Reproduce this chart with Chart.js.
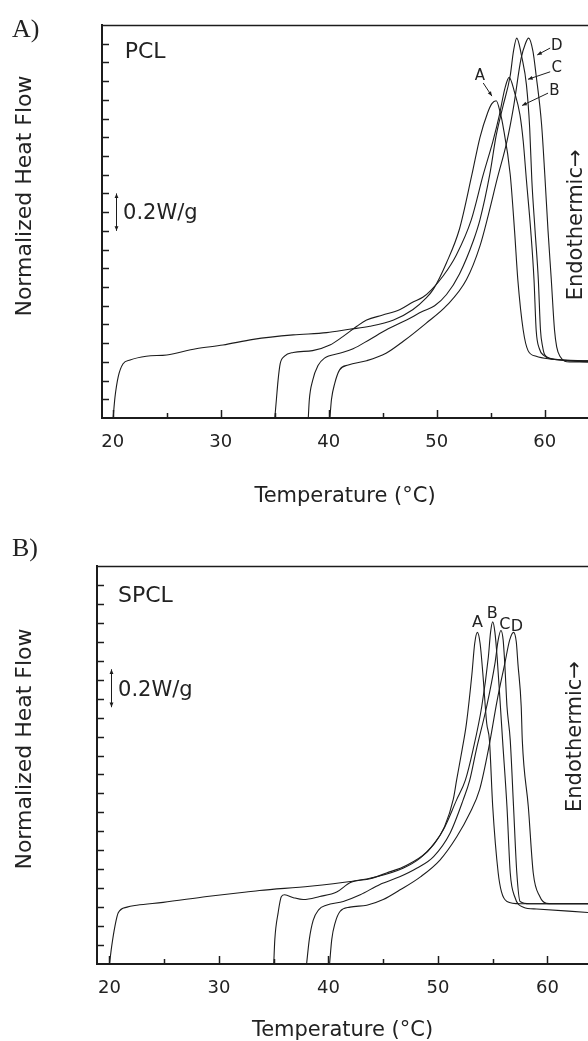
<!DOCTYPE html>
<html>
<head>
<meta charset="utf-8">
<title>DSC melting curves PCL / SPCL</title>
<script src="https://cdn.jsdelivr.net/npm/chart.js@4.4.0/dist/chart.umd.min.js"></script>
<style>
  html, body { margin: 0; padding: 0; background: #fff; }
  .panel { position: absolute; left: 0; width: 588px; }
  #boxA { top: 0; height: 520px; }
  #boxB { top: 520px; height: 521px; }
</style>
</head>
<body>
<div class="panel" id="boxA"><canvas id="chartA"></canvas></div>
<div class="panel" id="boxB"><canvas id="chartB"></canvas></div>
<script>
// temperature ticks (C); labels only on the multiples of 10
const xTickValues = [20, 25, 30, 35, 40, 45, 50, 55, 60];

// ---- panel A : PCL, heat flow (W/g, shifted) vs temperature (C) ----
const pclA_T = [20.03, 20.2, 20.5, 20.95, 21.6, 23.1, 25.0, 27.7, 30.2, 33.0, 36.7, 39.8, 41.9, 43.8, 46.0, 47.8, 49.0, 49.7, 50.9, 52.1, 53.25, 54.0, 54.7, 55.1, 55.5, 55.9, 56.1, 56.8, 57.2, 57.5, 58.0, 58.45, 59.2, 60.5, 64.0];
const pclA_Q = [0, 0.11, 0.22, 0.29, 0.31, 0.33, 0.337, 0.37, 0.39, 0.42, 0.444, 0.456, 0.474, 0.49, 0.524, 0.58, 0.64, 0.69, 0.83, 1.01, 1.30, 1.50, 1.63, 1.68, 1.695, 1.625, 1.57, 1.30, 1.0, 0.74, 0.47, 0.36, 0.33, 0.315, 0.30];

const pclB_T = [35.0, 35.15, 35.3, 35.5, 35.9, 36.7, 38.5, 40.1, 41.3, 42.6, 43.5, 45.0, 46.6, 47.8, 48.7, 49.5, 50.6, 51.8, 53.2, 54.3, 55.2, 55.8, 56.3, 56.7, 57.2, 57.7, 58.0, 58.3, 58.7, 59.0, 59.2, 59.5, 59.9, 60.6, 64.0];
const pclB_Q = [0, 0.10, 0.20, 0.29, 0.33, 0.35, 0.36, 0.39, 0.435, 0.49, 0.524, 0.55, 0.58, 0.62, 0.645, 0.685, 0.76, 0.87, 1.06, 1.30, 1.48, 1.62, 1.76, 1.82, 1.74, 1.62, 1.48, 1.27, 1.0, 0.74, 0.47, 0.37, 0.335, 0.315, 0.305];

const pclC_T = [38.1, 38.2, 38.5, 39.0, 39.6, 41.0, 42.25, 43.8, 45.3, 47.2, 48.7, 49.8, 50.9, 52.1, 53.4, 54.0, 54.9, 55.5, 56.1, 56.8, 57.1, 57.4, 57.9, 58.3, 58.6, 58.8, 59.1, 59.4, 59.6, 59.8, 60.0, 60.8, 64.0];
const pclC_Q = [0, 0.10, 0.20, 0.28, 0.32, 0.346, 0.37, 0.42, 0.47, 0.524, 0.57, 0.60, 0.66, 0.77, 0.95, 1.06, 1.30, 1.51, 1.66, 1.83, 1.96, 2.03, 1.92, 1.78, 1.55, 1.27, 1.0, 0.74, 0.47, 0.38, 0.337, 0.315, 0.305];

const pclD_T = [40.1, 40.25, 40.55, 41.0, 41.8, 43.5, 45.3, 46.9, 49.0, 50.9, 52.75, 54.0, 54.75, 55.6, 56.5, 57.1, 57.8, 58.2, 58.5, 58.9, 59.2, 59.7, 60.0, 60.3, 60.6, 60.9, 61.1, 61.4, 62.3, 64.0];
const pclD_Q = [0, 0.10, 0.185, 0.257, 0.283, 0.306, 0.346, 0.41, 0.506, 0.60, 0.74, 0.92, 1.08, 1.28, 1.48, 1.66, 1.92, 2.00, 2.03, 1.96, 1.83, 1.57, 1.30, 1.0, 0.74, 0.47, 0.38, 0.33, 0.30, 0.30];

// ---- panel B : SPCL ----
const spclA_T = [20.0, 20.2, 20.5, 20.8, 21.6, 22.5, 24.9, 28.9, 32.5, 33.7, 38.3, 42.0, 44.4, 46.8, 48.4, 49.6, 50.6, 51.4, 51.7, 52.2, 52.6, 53.1, 53.35, 53.6, 53.85, 54.1, 54.45, 54.7, 55.0, 55.5, 55.8, 56.3, 57.5, 63.7];
const spclA_Q = [0, 0.093, 0.20, 0.27, 0.30, 0.31, 0.325, 0.356, 0.38, 0.388, 0.41, 0.435, 0.46, 0.505, 0.56, 0.63, 0.725, 0.87, 0.97, 1.13, 1.27, 1.53, 1.69, 1.75, 1.69, 1.53, 1.27, 1.18, 0.83, 0.48, 0.38, 0.33, 0.318, 0.318];

const spclB_T = [35.0, 35.1, 35.4, 35.7, 36.0, 36.8, 37.7, 39.2, 40.75, 42.0, 43.8, 45.3, 47.1, 48.95, 50.5, 51.7, 52.5, 53.2, 54.0, 54.6, 54.8, 55.0, 55.2, 55.4, 55.7, 55.9, 56.3, 56.6, 57.0, 57.8, 59.0, 63.7];
const spclB_Q = [0, 0.13, 0.27, 0.356, 0.365, 0.35, 0.34, 0.356, 0.38, 0.43, 0.45, 0.48, 0.52, 0.59, 0.71, 0.866, 0.97, 1.13, 1.36, 1.62, 1.75, 1.805, 1.75, 1.62, 1.36, 1.18, 0.83, 0.48, 0.356, 0.30, 0.29, 0.272];

const spclC_T = [38.0, 38.25, 38.6, 39.1, 39.8, 41.35, 42.9, 44.7, 46.5, 48.05, 49.6, 51.1, 52.3, 52.9, 53.5, 54.45, 55.2, 55.5, 55.75, 55.95, 56.1, 56.3, 56.6, 56.9, 57.2, 57.5, 58.4, 63.7];
const spclC_Q = [0, 0.13, 0.23, 0.286, 0.31, 0.33, 0.365, 0.42, 0.46, 0.505, 0.567, 0.69, 0.866, 0.97, 1.13, 1.36, 1.585, 1.71, 1.76, 1.71, 1.585, 1.36, 1.18, 0.83, 0.48, 0.33, 0.318, 0.318];

const spclD_T = [40.1, 40.3, 40.6, 41.05, 41.96, 43.5, 45.0, 46.5, 48.4, 50.2, 51.7, 52.9, 53.8, 54.6, 55.4, 56.1, 56.55, 56.9, 57.15, 57.3, 57.6, 57.7, 58.25, 58.7, 59.3, 59.9, 60.5, 63.7];
const spclD_Q = [0, 0.13, 0.216, 0.277, 0.30, 0.31, 0.34, 0.39, 0.46, 0.55, 0.67, 0.795, 0.92, 1.13, 1.39, 1.585, 1.71, 1.75, 1.70, 1.585, 1.36, 1.18, 0.83, 0.48, 0.356, 0.32, 0.318, 0.318];

const INK = '#1c1c1c';
const TXT = '#222';
const SANS = '"DejaVu Sans", sans-serif';

function pts(ts, qs) {
    return ts.map((t, i) => ({ x: t, y: qs[i] }));
}

function curve(ts, qs) {
    return {
        data: pts(ts, qs),
        borderColor: INK,
        borderWidth: 1.1,
        pointRadius: 0,
        fill: false,
        cubicInterpolationMode: 'monotone'
    };
}

function arrowHead(ctx, x1, y1, x2, y2, size) {
    const ang = Math.atan2(y2 - y1, x2 - x1);
    ctx.beginPath();
    ctx.moveTo(x2, y2);
    ctx.lineTo(x2 - size * Math.cos(ang - 0.4), y2 - size * Math.sin(ang - 0.4));
    ctx.lineTo(x2 - size * Math.cos(ang + 0.4), y2 - size * Math.sin(ang + 0.4));
    ctx.closePath();
    ctx.fill();
}

// frame, inward ticks and the text annotations of one panel
function decor(cfg) {
    return {
        id: 'decor' + cfg.panel,
        afterDraw(chart) {
            const { ctx, chartArea: a, scales: { x, y } } = chart;
            const px = v => x.getPixelForValue(v);
            const py = v => y.getPixelForValue(v);
            ctx.save();
            ctx.strokeStyle = INK;
            ctx.fillStyle = TXT;

            // top frame line
            ctx.lineWidth = 1.5;
            ctx.beginPath();
            ctx.moveTo(a.left, a.top + 0.5);
            ctx.lineTo(a.right, a.top + 0.5);
            ctx.stroke();

            // ticks pointing into the plot
            x.ticks.forEach(t => {
                const xx = Math.round(px(t.value)) + 0.5;
                const len = t.value % 10 === 0 ? 8 : 5;
                ctx.beginPath();
                ctx.moveTo(xx, a.bottom);
                ctx.lineTo(xx, a.bottom - len);
                ctx.stroke();
            });
            y.ticks.forEach(t => {
                if (t.value <= 0.001 || t.value >= y.max - 0.001) return;
                const yy = Math.round(py(t.value)) + 0.5;
                ctx.beginPath();
                ctx.moveTo(a.left, yy);
                ctx.lineTo(a.left + 7, yy);
                ctx.stroke();
            });

            // y axis title
            ctx.save();
            ctx.translate(cfg.yTitle[0], cfg.yTitle[1]);
            ctx.rotate(-Math.PI / 2);
            ctx.font = '22px ' + SANS;
            ctx.textAlign = 'center';
            ctx.textBaseline = 'middle';
            ctx.fillText('Normalized Heat Flow', 0, 0);
            ctx.restore();

            // panel letter
            ctx.font = '26px "Liberation Serif", serif';
            ctx.textAlign = 'left';
            ctx.textBaseline = 'alphabetic';
            ctx.fillText(cfg.panel + ')', cfg.panelPos[0], cfg.panelPos[1]);

            // sample name
            ctx.font = '22px ' + SANS;
            ctx.fillText(cfg.sample, px(cfg.samplePos[0]), py(cfg.samplePos[1]));

            // 0.2 W/g scale bar
            const sb = cfg.scaleBar;
            const sx = Math.round(px(sb.t)) + 0.5;
            const y1 = py(sb.from), y2 = py(sb.to);
            ctx.lineWidth = 1;
            ctx.beginPath();
            ctx.moveTo(sx, y1);
            ctx.lineTo(sx, y2);
            ctx.stroke();
            ctx.fillStyle = INK;
            arrowHead(ctx, sx, y2 + 5, sx, y1, 5);
            arrowHead(ctx, sx, y1 - 5, sx, y2, 5);
            ctx.fillStyle = TXT;
            ctx.font = '21px ' + SANS;
            ctx.fillText('0.2W/g', px(sb.textT), py(sb.textQ));

            // curve letters (with arrows in panel A)
            ctx.font = cfg.letterSize + 'px ' + SANS;
            ctx.textAlign = 'center';
            ctx.textBaseline = 'middle';
            cfg.letters.forEach(l => {
                ctx.fillText(l.text, px(l.t), py(l.q));
                if (l.arrow) {
                    const [t1, q1, t2, q2] = l.arrow;
                    ctx.lineWidth = 1;
                    ctx.beginPath();
                    ctx.moveTo(px(t1), py(q1));
                    ctx.lineTo(px(t2), py(q2));
                    ctx.stroke();
                    ctx.fillStyle = INK;
                    arrowHead(ctx, px(t1), py(q1), px(t2), py(q2), 5);
                    ctx.fillStyle = TXT;
                }
            });

            // endothermic direction
            ctx.save();
            ctx.translate(px(cfg.endo[0]), py(cfg.endo[1]));
            ctx.rotate(-Math.PI / 2);
            ctx.font = '21px ' + SANS;
            ctx.textAlign = 'center';
            ctx.textBaseline = 'middle';
            ctx.fillText('Endothermic\u2192', 0, 0);
            ctx.restore();

            ctx.restore();
        }
    };
}

function makeChart(id, cfg) {
    return new Chart(document.getElementById(id), {
        type: 'line',
        data: { datasets: cfg.sets },
        plugins: [decor(cfg)],
        options: {
            responsive: true,
            maintainAspectRatio: false,
            animation: false,
            layout: { padding: { top: cfg.padTop, left: 0, right: 0, bottom: 0 } },
            plugins: { legend: { display: false }, tooltip: { enabled: false } },
            scales: {
                x: {
                    type: 'linear',
                    min: cfg.xMin,
                    max: cfg.xMax,
                    border: { display: true, color: INK, width: 2 },
                    grid: { display: false },
                    afterBuildTicks: s => { s.ticks = xTickValues.map(v => ({ value: v })); },
                    ticks: {
                        autoSkip: false,
                        maxRotation: 0,
                        padding: 6,
                        color: TXT,
                        font: { family: SANS, size: 18 },
                        callback: v => (v % 10 === 0 ? String(v) : '')
                    },
                    title: {
                        display: true,
                        text: 'Temperature (\u00B0C)',
                        color: TXT,
                        font: { family: SANS, size: 21, lineHeight: 1 },
                        padding: { top: 0, bottom: cfg.xTitlePad }
                    },
                    afterFit: s => { s.height = cfg.xHeight; }
                },
                y: {
                    type: 'linear',
                    min: 0,
                    max: 2.1,
                    border: { display: true, color: INK, width: 2 },
                    grid: { display: false },
                    ticks: { display: false, stepSize: 0.1 },
                    afterFit: s => { s.width = cfg.yWidth; }
                }
            }
        }
    });
}

makeChart('chartA', {
    panel: 'A',
    sample: 'PCL',
    sets: [curve(pclA_T, pclA_Q), curve(pclB_T, pclB_Q), curve(pclC_T, pclC_Q), curve(pclD_T, pclD_Q)],
    xMin: 19.0, xMax: 64.0,
    padTop: 25, yWidth: 102, xHeight: 102, xTitlePad: 13,
    yTitle: [25, 196],
    panelPos: [12, 37],
    samplePos: [21.1, 1.924],
    scaleBar: { t: 20.28, from: 1.0, to: 1.2, textT: 20.95, textQ: 1.063 },
    letterSize: 15,
    letters: [
        { text: 'A', t: 54.0, q: 1.825, arrow: [54.3, 1.79, 55.1, 1.72] },
        { text: 'B', t: 60.9, q: 1.745, arrow: [60.3, 1.736, 57.9, 1.67] },
        { text: 'C', t: 61.1, q: 1.87, arrow: [60.5, 1.85, 58.45, 1.81] },
        { text: 'D', t: 61.1, q: 1.985, arrow: [60.5, 1.977, 59.3, 1.94] }
    ],
    endo: [62.9, 1.032]
});

makeChart('chartB', {
    panel: 'B',
    sample: 'SPCL',
    sets: [curve(spclA_T, spclA_Q), curve(spclB_T, spclB_Q), curve(spclC_T, spclC_Q), curve(spclD_T, spclD_Q)],
    xMin: 18.86, xMax: 63.7,
    padTop: 46, yWidth: 97, xHeight: 77, xTitlePad: 0,
    yTitle: [25, 229],
    panelPos: [12, 36],
    samplePos: [20.78, 1.91],
    scaleBar: { t: 20.14, from: 1.355, to: 1.555, textT: 20.78, textQ: 1.414 },
    letterSize: 16,
    letters: [
        { text: 'A', t: 53.6, q: 1.80 },
        { text: 'B', t: 54.96, q: 1.85 },
        { text: 'C', t: 56.1, q: 1.79 },
        { text: 'D', t: 57.2, q: 1.78 }
    ],
    endo: [62.6, 1.20]
});
</script>
</body>
</html>
